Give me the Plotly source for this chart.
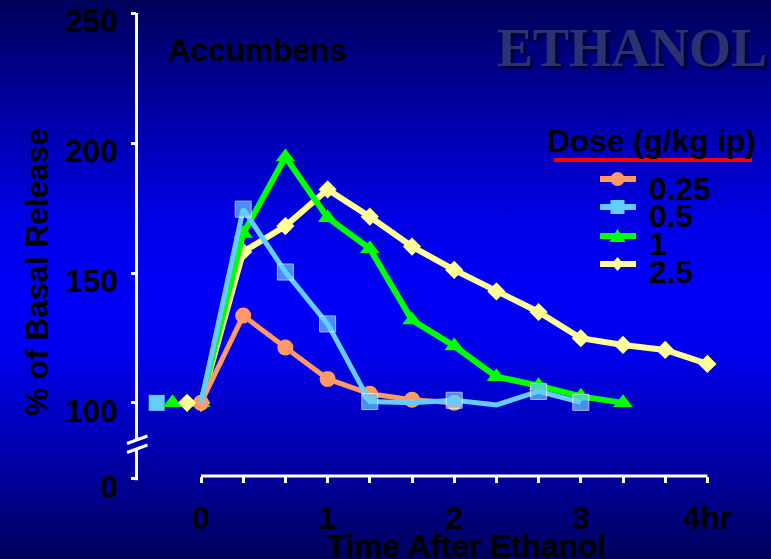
import base64
import plotly.graph_objects as go

# ---------------- data (hours after ethanol, % of basal release) ----------------
t_025 = [0, 1/3, 2/3, 1, 4/3, 5/3, 2]
y_025 = [100, 133.6, 121.3, 109.2, 103.5, 101.2, 100]

t_05 = [0, 1/3, 2/3, 1, 4/3, 5/3, 2, 7/3, 8/3, 3]
y_05 = [100, 174.6, 150.4, 130.4, 100.5, 100, 101, 99.2, 104.4, 100.2]

t_1 = [0, 1/3, 2/3, 1, 4/3, 5/3, 2, 7/3, 8/3, 3, 10/3]
y_1 = [100, 165.2, 194.7, 171.3, 159.4, 131.9, 121.9, 110.1, 106.6, 102.5, 100]

t_25 = [0, 1/3, 2/3, 1, 4/3, 5/3, 2, 7/3, 8/3, 3, 10/3, 11/3, 4]
y_25 = [100, 158.2, 168.1, 182.2, 171.7, 160.2, 151.2, 142.9, 135.0, 124.9, 122.3, 120.4, 115.0]

# pre-injection baseline samples
base_t_05, base_y_05 = [-0.35], [100]
base_t_1, base_y_1 = [-0.225], [100]
base_t_25, base_y_25 = [-0.11], [100]

dose_labels = ["0.25", "0.5", "1", "2.5"]
x_tick_vals = [0, 1/3, 2/3, 1, 4/3, 5/3, 2, 7/3, 8/3, 3, 10/3, 11/3, 4]
x_tick_text = ["0", "", "", "1", "", "", "2", "", "", "3", "", "", "4hr"]
y_tick_text = ["0", "100", "150", "200", "250"]

# ---------------- layout geometry ----------------
W, H = 771, 559
L, R, T, B = 137, 760, 13, 495      # plot area in pixels
X0_PX, HR_PX = 201, 126.6
Y250_PX, Y100_PX, YZERO_PX = 13, 403, 479


def px(x):
    return (x - L) / (R - L)


def py(y):
    return (B - y) / (B - T)


x_range = [(L - X0_PX) / HR_PX, (R - X0_PX) / HR_PX]
u_per_px = 150 / (Y100_PX - Y250_PX)
Y0 = 250 - u_per_px * (YZERO_PX - Y250_PX)   # value drawn at the broken-axis "0"
y_range = [250 - u_per_px * (B - T) - 0.1, 250.15]
y_tick_vals = [Y0, 100, 150, 200, 250]
# tick labels sit ~8 px below their ticks in the original slide
lab_shift = 8 * (y_range[1] - y_range[0]) / (B - T)
y2_range = [y_range[0] + lab_shift, y_range[1] + lab_shift]

C_ORANGE, C_BLUE, C_GREEN, C_YELLOW = "#FF9966", "#66CCFF", "#00FF00", "#FFFF99"
FONT = "Liberation Sans, Arial, sans-serif"
FS = 31.6

# background gradient (vertical)
stops = [(0.0, (0, 0, 90)), (0.2, (0, 0, 165)), (0.4, (0, 0, 232)),
         (0.52, (0, 0, 250)), (0.62, (0, 0, 240)), (0.8, (0, 0, 176)),
         (1.0, (0, 0, 92))]


def grad_at(f):
    for (a, ca), (b, cb) in zip(stops[:-1], stops[1:]):
        if a <= f <= b:
            k = (f - a) / (b - a)
            return "rgb(%d,%d,%d)" % tuple(round(ca[i] + (cb[i] - ca[i]) * k) for i in range(3))
    return "rgb(0,0,94)"


svg = ('<svg xmlns="http://www.w3.org/2000/svg" width="%d" height="%d">'
       '<defs><linearGradient id="g" x1="0" y1="0" x2="0" y2="1">' % (W, H)
       + "".join('<stop offset="%g" stop-color="rgb(%d,%d,%d)"/>' % (o, *c) for o, c in stops)
       + '</linearGradient></defs><rect width="100%" height="100%" fill="url(#g)"/></svg>')
bg_src = "data:image/svg+xml;base64," + base64.b64encode(svg.encode()).decode()

fig = go.Figure()

fig.add_trace(go.Scatter(x=t_25, y=y_25, mode="lines+markers", name="2.5",
                         line=dict(color=C_YELLOW, width=6),
                         marker=dict(symbol="diamond", size=14, color=C_YELLOW)))
fig.add_trace(go.Scatter(x=t_1, y=y_1, mode="lines+markers", name="1",
                         line=dict(color=C_GREEN, width=6),
                         marker=dict(symbol="triangle-up", size=17, color=C_GREEN)))
fig.add_trace(go.Scatter(x=t_025, y=y_025, mode="lines+markers", name="0.25",
                         line=dict(color=C_ORANGE, width=5),
                         marker=dict(symbol="circle", size=16, color=C_ORANGE)))
fig.add_trace(go.Scatter(x=t_05, y=y_05, mode="lines+markers", name="0.5",
                         line=dict(color=C_BLUE, width=5),
                         marker=dict(symbol="square", color=C_BLUE,
                                     size=[0, 16, 16, 16, 16, 0, 16, 0, 16, 16])))
fig.add_trace(go.Scatter(x=base_t_05, y=base_y_05, mode="markers", showlegend=False,
                         marker=dict(symbol="square", size=16, color=C_BLUE)))
fig.add_trace(go.Scatter(x=base_t_1, y=base_y_1, mode="markers", showlegend=False,
                         marker=dict(symbol="triangle-up", size=17, color=C_GREEN)))
fig.add_trace(go.Scatter(x=base_t_25, y=base_y_25, mode="markers", showlegend=False,
                         marker=dict(symbol="diamond", size=14, color=C_YELLOW)))
# empty trace so the label-only y axis is drawn
fig.add_trace(go.Scatter(x=[], y=[], yaxis="y2", showlegend=False, hoverinfo="skip"))
fig.update_traces(cliponaxis=False)

tickfont = dict(family=FONT, size=FS, color="black", weight="bold")

fig.update_layout(
    width=W, height=H,
    margin=dict(l=L, r=W - R, t=T, b=H - B, pad=0, autoexpand=False),
    paper_bgcolor="#0000B0",
    plot_bgcolor="rgba(0,0,0,0)",
    showlegend=False,
    xaxis=dict(range=x_range, anchor="free", position=py(476), showline=False,
               showgrid=False, zeroline=False, ticks="outside", ticklen=6,
               tickwidth=3, tickcolor="white", tickvals=x_tick_vals,
               ticktext=x_tick_text, tickfont=tickfont, ticklabelstandoff=8,
               ticklabeloverflow="allow", automargin=False),
    yaxis=dict(range=y_range, showline=False, showgrid=False, zeroline=False,
               ticks="outside", ticklen=5, tickwidth=3, tickcolor="white",
               tickvals=y_tick_vals, showticklabels=False, automargin=False),
    yaxis2=dict(range=y2_range, overlaying="y", anchor="x", side="left",
                showline=False, showgrid=False, zeroline=False, ticks="",
                tickvals=y_tick_vals, ticktext=y_tick_text, tickfont=tickfont,
                ticklabelstandoff=18, ticklabeloverflow="allow", automargin=False),
    images=[dict(source=bg_src, xref="paper", yref="paper", x=px(0), y=py(0),
                 sizex=px(W) - px(0), sizey=py(0) - py(H), xanchor="left",
                 yanchor="top", sizing="stretch", layer="below")],
)

shapes = []
# y axis line from the broken "0" up to 250
shapes.append(dict(type="line", xref="paper", yref="y", x0=px(136.5), x1=px(136.5),
                   y0=Y0 - 1.5 * u_per_px, y1=250 + 1.5 * u_per_px,
                   line=dict(color="white", width=3)))
# x axis line spanning 0..4 hr
shapes.append(dict(type="line", xref="x", yref="paper", x0=0, x1=4,
                   y0=py(476), y1=py(476), line=dict(color="white", width=3)))
# axis break
shapes.append(dict(type="rect", xref="paper", yref="paper", x0=px(132), x1=px(143),
                   y0=py(448), y1=py(439), fillcolor=grad_at(443 / H), line=dict(width=0)))
for dy in (0, 9):
    shapes.append(dict(type="line", xref="paper", yref="paper",
                       x0=px(127), y0=py(443.5 + dy), x1=px(147.5), y1=py(436 + dy),
                       line=dict(color="white", width=3)))
# legend underline
shapes.append(dict(type="line", xref="paper", yref="paper", x0=px(554), x1=px(752),
                   y0=py(160), y1=py(160), line=dict(color="#FF0000", width=4)))

# legend symbols
leg_y = [179, 207, 236, 264]
leg_c = [C_ORANGE, C_BLUE, C_GREEN, C_YELLOW]
cx = 617.5
for yl, c in zip(leg_y, leg_c):
    shapes.append(dict(type="line", xref="paper", yref="paper", x0=px(600), x1=px(636),
                       y0=py(yl), y1=py(yl), line=dict(color=c, width=6)))
r = 7
shapes.append(dict(type="circle", xref="paper", yref="paper", x0=px(cx - r), x1=px(cx + r),
                   y0=py(leg_y[0] + r), y1=py(leg_y[0] - r), fillcolor=C_ORANGE, line=dict(width=0)))
shapes.append(dict(type="rect", xref="paper", yref="paper", x0=px(cx - r), x1=px(cx + r),
                   y0=py(leg_y[1] + r), y1=py(leg_y[1] - r), fillcolor=C_BLUE, line=dict(width=0)))
yt = leg_y[2]
shapes.append(dict(type="path", xref="paper", yref="paper",
                   path="M %f %f L %f %f L %f %f Z" % (px(cx - 8), py(yt + 6), px(cx + 8), py(yt + 6),
                                                       px(cx), py(yt - 7)),
                   fillcolor=C_GREEN, line=dict(width=0)))
yd = leg_y[3]
shapes.append(dict(type="path", xref="paper", yref="paper",
                   path="M %f %f L %f %f L %f %f L %f %f Z" % (px(cx - 6), py(yd), px(cx), py(yd - 7),
                                                               px(cx + 6), py(yd), px(cx), py(yd + 7)),
                   fillcolor=C_YELLOW, line=dict(width=0)))
fig.update_layout(shapes=shapes)

bold = dict(family=FONT, size=FS, color="black", weight="bold")
ann = []
ann.append(dict(text="Accumbens", x=px(166), y=py(50), xanchor="left", yanchor="middle",
                font=bold))
ann.append(dict(text="ETHANOL", x=px(632), y=py(48), xanchor="center", yanchor="middle",
                font=dict(family="Liberation Serif, Times New Roman, serif", size=54,
                          color="#2B3272", weight="bold", shadow="3px 3px 2px #000035")))
ann.append(dict(text="Dose (g/kg ip)", x=px(545), y=py(141), xanchor="left", yanchor="middle",
                font=bold))
for lbl, yl in zip(dose_labels, [189, 216, 244, 272]):
    ann.append(dict(text=lbl, x=px(647), y=py(yl), xanchor="left", yanchor="middle", font=bold))
ann.append(dict(text="% of Basal Release", x=px(37), y=py(272), textangle=-90,
                xanchor="center", yanchor="middle", font=bold))
ann.append(dict(text="Time After Ethanol", x=px(467), y=py(546), xanchor="center",
                yanchor="middle", font=bold))
for a in ann:
    a.update(xref="paper", yref="paper", showarrow=False)
fig.update_layout(annotations=ann)

fig.write_html("out.html")
